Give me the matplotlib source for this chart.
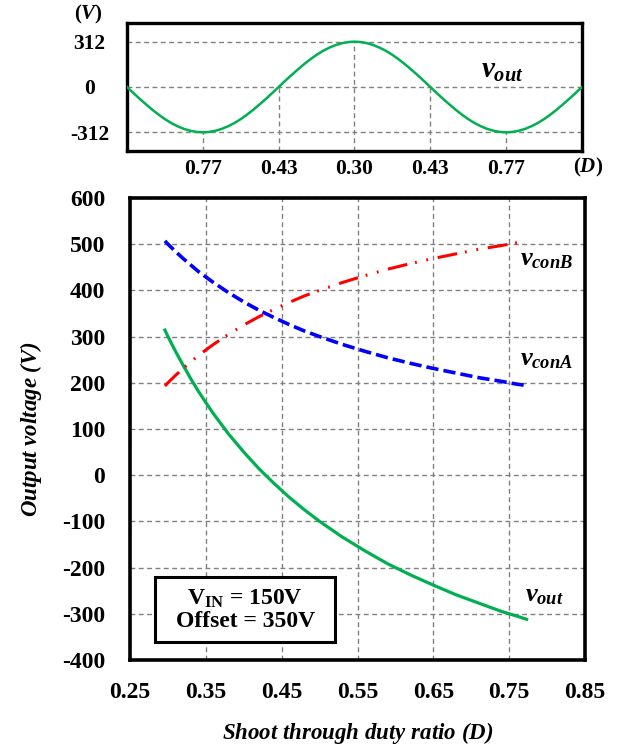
import numpy as np
import matplotlib
matplotlib.use("Agg")
import matplotlib.pyplot as plt
from matplotlib.patches import Rectangle

# top panel: one quarter of the output wave (0..90 deg, every 7.5 deg)
WAVE_STEP_DEG = 7.5
WAVE_QUARTER = [0, 41, 81, 119, 156, 190, 221, 248, 270, 288, 301, 309, 312]
TOP_TICK_PHASE = [90, 180, 270, 360, 450]
TOP_TICK_LABELS = ["0.77", "0.43", "0.30", "0.43", "0.77"]
TOP_TICK_VOUT = [-312, 0, 312, 0, -312]
TOP_Y_TICKS = [-312, 0, 312]

# bottom panel: voltages vs shoot-through duty ratio
D = [0.296, 0.30, 0.305, 0.31, 0.32, 0.33, 0.34, 0.35, 0.36, 0.38, 0.40,
     0.42, 0.44, 0.46, 0.48, 0.50, 0.53, 0.56, 0.59, 0.62, 0.65, 0.68,
     0.71, 0.74, 0.76, 0.773]
V_CON_A = [507, 500, 492, 484, 469, 455, 441, 429, 417, 395, 375,
           357, 341, 326, 312, 300, 283, 268, 254, 242, 231, 221,
           211, 203, 197, 194]
V_CON_B = [193, 200, 208, 216, 231, 245, 259, 271, 283, 305, 325,
           343, 359, 374, 388, 400, 417, 432, 446, 458, 469, 479,
           489, 497, 503, 506]
V_OUT = [314, 300, 284, 268, 238, 209, 182, 157, 133, 89, 50,
         14, -18, -48, -75, -100, -134, -164, -192, -216, -238, -259,
         -277, -295, -305, -312]

GREEN = "#00b050"
RED = "#ff0000"
BLUE = "#0000ff"
GRID = "#808080"

plt.rcParams["font.family"] = "Liberation Serif"
plt.rcParams["font.weight"] = "bold"
plt.rcParams["axes.unicode_minus"] = False
plt.rcParams["mathtext.fontset"] = "custom"
plt.rcParams["mathtext.it"] = "Liberation Serif:italic:bold"
plt.rcParams["mathtext.rm"] = "Liberation Serif:bold"
plt.rcParams["mathtext.bf"] = "Liberation Serif:bold"

fig = plt.figure(figsize=(6.18, 7.47), dpi=100)

# ---- top waveform ----
q = np.array(WAVE_QUARTER)
half_neg = np.concatenate([-q, -q[::-1][1:]])      # 0..180 deg
half_pos = np.concatenate([q[1:], q[::-1][1:]])    # 180..360 deg
wave = np.concatenate([half_neg, half_pos, -q[1:], -q[::-1][1:]])
phase = np.arange(len(wave)) * WAVE_STEP_DEG

ax1 = fig.add_axes([0.2055, 0.7979, 0.7362, 0.1713])
ax1.plot(phase, wave, color=GREEN, lw=1.8, zorder=3)
ax1.set_xlim(0, phase[-1])
ax1.set_ylim(-440, 440)
for yv in TOP_Y_TICKS:
    ax1.axhline(yv, color=GRID, lw=1, ls=(0, (3.5, 2.5)), zorder=1)
ax1.vlines(TOP_TICK_PHASE, -440, TOP_TICK_VOUT, color=GRID, lw=1,
           ls=(0, (3.5, 2.5)), zorder=1)
ax1.set_xticks(TOP_TICK_PHASE)
ax1.set_xticklabels(TOP_TICK_LABELS)
ax1.set_yticks(TOP_Y_TICKS)
ax1.set_yticklabels([str(v) for v in TOP_Y_TICKS])
for lab in ax1.get_yticklabels():
    lab.set_horizontalalignment("center")
ax1.tick_params(axis="x", length=0, pad=6, labelsize=15.5)
ax1.tick_params(axis="y", length=0, pad=27, labelsize=15.5)
for sp in ax1.spines.values():
    sp.set_linewidth(2.4)
ax1.text(-0.085, 1.07, "($V$)", transform=ax1.transAxes, ha="center",
         va="center", fontsize=15)
ax1.text(1.013, -0.13, "($D$)", transform=ax1.transAxes, ha="center",
         va="center", fontsize=15)
ax1.text(420, 66, "$v_{out}$", ha="left", va="baseline", fontsize=21)

# ---- bottom curves ----
ax2 = fig.add_axes([0.2104, 0.1165, 0.7362, 0.6185])
ax2.plot(D, V_OUT, color=GREEN, lw=2.3, zorder=3)
ax2.plot(D, V_CON_A, color=BLUE, lw=2.6, ls=(0, (3.4, 1.4)), zorder=3)
ax2.plot(D, V_CON_B, color=RED, lw=2.2, ls=(0, (6.5, 2.6, 0.6, 3.2, 0.6, 3.2)), zorder=3)
ax2.set_xlim(0.25, 0.85)
ax2.set_ylim(-400, 600)
ax2.set_xticks(np.arange(0.25, 0.851, 0.1))
ax2.set_xticklabels([f"{v:.2f}" for v in np.arange(0.25, 0.851, 0.1)])
ax2.set_yticks(np.arange(-400, 601, 100))
ax2.grid(True, color=GRID, lw=1, ls=(0, (3.5, 2.5)))
ax2.set_axisbelow(True)
ax2.tick_params(axis="x", length=0, pad=16, labelsize=17)
ax2.tick_params(axis="y", length=0, pad=18, labelsize=17)
for sp in ax2.spines.values():
    sp.set_linewidth(2.6)
ax2.set_ylabel("Output voltage ($V$)", fontsize=16.5, style="italic",
               fontweight="bold", labelpad=13)
ax2.set_xlabel("Shoot through duty ratio ($D$)", fontsize=16.5, style="italic",
               fontweight="bold", labelpad=12)

ax2.text(0.764, 455, "$v_{conB}$", ha="left", va="baseline", fontsize=19)
ax2.text(0.764, 238, "$v_{conA}$", ha="left", va="baseline", fontsize=19)
ax2.text(0.771, -274, "$v_{out}$", ha="left", va="baseline", fontsize=19)

# parameter box
ax2.add_patch(Rectangle((0.055, 0.039), 0.396, 0.141, transform=ax2.transAxes,
                        fc="white", ec="black", lw=2.2, zorder=4))
ax2.text(0.253, 0.108, "V$_{\\mathrm{IN}}$ = 150V\nOffset = 350V", transform=ax2.transAxes,
         ha="center", va="center", fontsize=17, linespacing=1.05, zorder=5)

fig.savefig("out.png", dpi=100)
